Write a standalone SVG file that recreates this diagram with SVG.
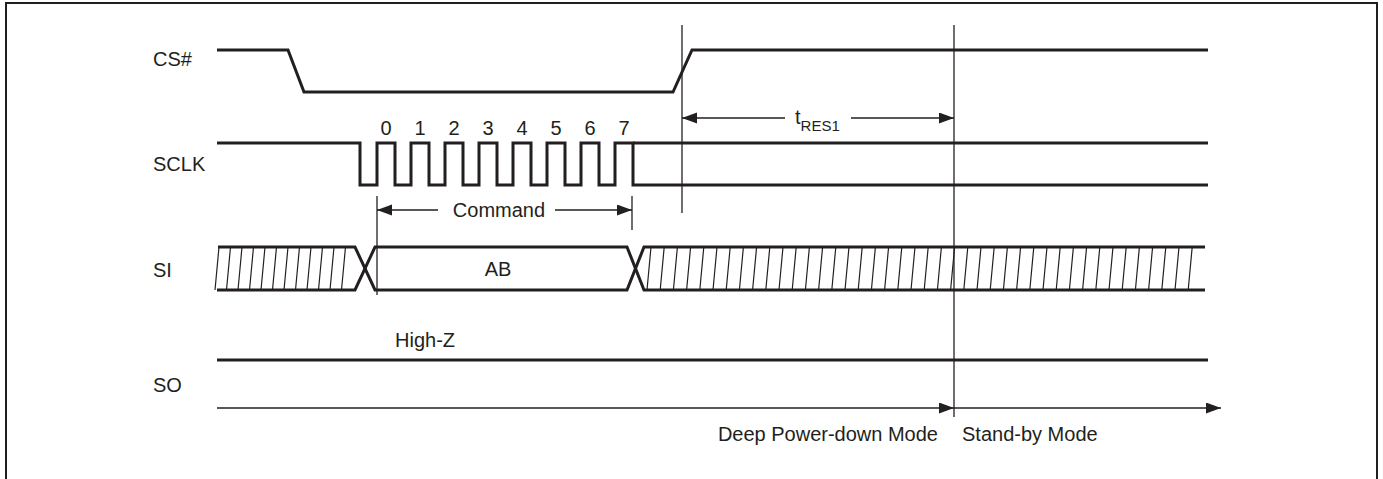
<svg xmlns="http://www.w3.org/2000/svg" width="1383" height="479" viewBox="0 0 1383 479">
<style>
.sig{fill:none;stroke:#231f20;stroke-width:3;stroke-linejoin:miter}
.thin{fill:none;stroke:#231f20;stroke-width:1.3}
.hatch{fill:none;stroke:#231f20;stroke-width:1.2}
.arr{fill:none;stroke:#231f20;stroke-width:1.3}
text{font-family:"Liberation Sans",Arial,sans-serif;fill:#231f20;font-size:20px}
</style>
<defs>
<marker id="ah" markerUnits="userSpaceOnUse" markerWidth="16" markerHeight="12" refX="15" refY="5.5" orient="auto-start-reverse">
<path d="M0,0 L15,5.5 L0,11 z" fill="#231f20"/>
</marker>
</defs>
<rect width="1383" height="479" fill="#fff"/>
<path d="M6,479 V3 H1377 V479" fill="none" stroke="#231f20" stroke-width="2"/>

<g id="labels">
<text x="153" y="66">CS#</text>
<text x="153" y="171">SCLK</text>
<text x="153" y="277">SI</text>
<text x="153" y="392">SO</text>
</g>

<g id="cs">
<path class="sig" d="M217,50 H288 L304,92 H673 L692,50 H1208"/>
</g>

<g id="sclk">
<path class="sig" d="M217,143 H360 V185 H377 V143 H395 V185 H411 V143 H429 V185 H445 V143 H463 V185 H479 V143 H497 V185 H513 V143 H531 V185 H547 V143 H565 V185 H581 V143 H599 V185 H615 V143 H633 V185 H1208"/>
<path class="sig" d="M633,143 H1208"/>
<g text-anchor="middle">
<text x="386" y="135">0</text>
<text x="420" y="135">1</text>
<text x="454" y="135">2</text>
<text x="488" y="135">3</text>
<text x="522" y="135">4</text>
<text x="556" y="135">5</text>
<text x="590" y="135">6</text>
<text x="624" y="135">7</text>
</g>
</g>

<g id="si">
<path class="sig" d="M218,247 H355 L375,290 H627 L644,247 H1205"/>
<path class="sig" d="M217,290 H355 L375,247 H627 L644,290 H1205"/>
<path class="hatch" d="M215,290 L219,247 M226.5,290 L230.5,247 M238,290 L242,247 M249.5,290 L253.5,247 M261,290 L265,247 M272.5,290 L276.5,247 M284,290 L288,247 M295.5,290 L299.5,247 M307,290 L311,247 M318.5,290 L322.5,247 M330,290 L334,247 M341.5,290 L345.5,247"/>
<path class="hatch" d="M647,290 L651,247 M660.2,290 L664.2,247 M673.4,290 L677.4,247 M686.6,290 L690.6,247 M699.8,290 L703.8,247 M713,290 L717,247 M726.2,290 L730.2,247 M739.4,290 L743.4,247 M752.6,290 L756.6,247 M765.8,290 L769.8,247 M779,290 L783,247 M792.2,290 L796.2,247 M805.4,290 L809.4,247 M818.6,290 L822.6,247 M831.8,290 L835.8,247 M845,290 L849,247 M858.2,290 L862.2,247 M871.4,290 L875.4,247 M884.6,290 L888.6,247 M897.8,290 L901.8,247 M911,290 L915,247 M924.2,290 L928.2,247 M937.4,290 L941.4,247 M950.6,290 L954.6,247 M963.8,290 L967.8,247 M977,290 L981,247 M990.2,290 L994.2,247 M1003.4,290 L1007.4,247 M1016.6,290 L1020.6,247 M1029.8,290 L1033.8,247 M1043,290 L1047,247 M1056.2,290 L1060.2,247 M1069.4,290 L1073.4,247 M1082.6,290 L1086.6,247 M1095.8,290 L1099.8,247 M1109,290 L1113,247 M1122.2,290 L1126.2,247 M1135.4,290 L1139.4,247 M1148.6,290 L1152.6,247 M1161.8,290 L1165.8,247 M1175,290 L1179,247 M1188.2,290 L1192.2,247"/>
<text x="498" y="276" text-anchor="middle">AB</text>
</g>

<g id="so">
<path class="sig" d="M217,360 H1208"/>
<text x="395" y="347">High-Z</text>
</g>

<g id="connectors">
<path class="thin" d="M682,25 V213"/>
<path class="thin" d="M954,25 V417"/>
<path class="thin" d="M377,196 V295"/>
<path class="thin" d="M632,196 V230"/>
<path class="arr" d="M438,210 H377" marker-end="url(#ah)"/>
<path class="arr" d="M555,210 H632" marker-end="url(#ah)"/>
<path class="arr" d="M785,118 H682" marker-end="url(#ah)"/>
<path class="arr" d="M851,118 H954" marker-end="url(#ah)"/>
<path class="arr" d="M217,408 H954" marker-end="url(#ah)"/>
<path class="arr" d="M954,408 H1221" marker-end="url(#ah)"/>
</g>

<g id="annotations">
<text x="499" y="217" text-anchor="middle">Command</text>
<text x="795" y="124">t<tspan font-size="15" dy="7">RES1</tspan></text>
<text x="938" y="441" text-anchor="end">Deep Power-down Mode</text>
<text x="962" y="441">Stand-by Mode</text>
</g>
</svg>
